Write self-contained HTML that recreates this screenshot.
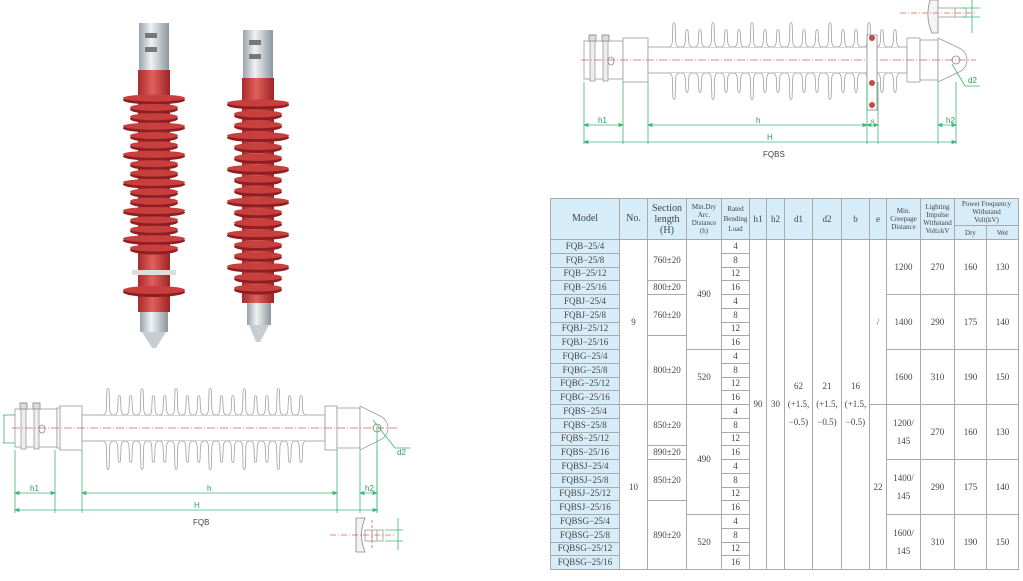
<!DOCTYPE html>
<html><head><meta charset="utf-8">
<style>
body{margin:0;width:1023px;height:581px;background:#fff;position:relative;overflow:hidden;font-family:"Liberation Sans",sans-serif}
svg{position:absolute;left:0;top:0}
table{position:absolute;left:550px;top:198px;width:468px;border-collapse:collapse;table-layout:fixed;font-family:"Liberation Serif",serif;font-size:9px;color:#444}
td{border:1px solid #aaa;text-align:center;padding:0;line-height:9px;overflow:hidden;white-space:nowrap}
tr.d td{height:12.75px}
.hd td{background:#d6ecf9;line-height:8px}
td.m{background:#d6ecf9;font-size:9px}
.s{font-size:7px}
</style></head><body>
<svg id="sv" width="1023" height="581" xmlns="http://www.w3.org/2000/svg">
<g id="g"></g>
<g font-family="Liberation Sans" font-size="8" fill="#2a9d5c">
<text x="30" y="491">h1</text><text x="207" y="491">h</text><text x="365" y="491">h2</text>
<text x="194" y="508">H</text><text x="397" y="455">d2</text>
<text x="598" y="123">h1</text><text x="756" y="123">h</text><text x="871" y="123" font-size="6">e</text><text x="946" y="123">h2</text>
<text x="767" y="140">H</text><text x="968" y="83">d2</text>
</g>
<g font-family="Liberation Sans" font-size="8" fill="#444"><text x="193" y="525">FQB</text><text x="763" y="157">FQBS</text></g>
</svg>
<table>
<colgroup><col style="width:69px"><col style="width:28px"><col style="width:39px"><col style="width:35px"><col style="width:28px"><col style="width:17px"><col style="width:18px"><col style="width:28px"><col style="width:29px"><col style="width:28px"><col style="width:17px"><col style="width:34px"><col style="width:34px"><col style="width:32px"><col style="width:32px"></colgroup>
<tr class="hd" style="height:27px"><td rowspan="2" style="font-size:10px">Model</td><td rowspan="2" style="font-size:10px">No.</td><td rowspan="2" style="font-size:10px;line-height:11px">Section<br>length<br>(H)</td><td rowspan="2" class="s">Min.Dry<br>Arc.<br>Distance<br>(h)</td><td rowspan="2" class="s" style="line-height:10px">Rated<br>Bending<br>Load</td><td rowspan="2">h1</td><td rowspan="2">h2</td><td rowspan="2">d1</td><td rowspan="2">d2</td><td rowspan="2">b</td><td rowspan="2">e</td><td rowspan="2" class="s">Min.<br>Creepage<br>Distance</td><td rowspan="2" class="s">Lighting<br>Impulse<br>Withstand<br>Volt≥kV</td><td colspan="2" class="s">Power Frequency<br>Withstand<br>Volt(kV)</td></tr>
<tr class="hd" style="height:14px"><td class="s">Dry</td><td class="s">Wet</td></tr>
<tr class="d"><td class="m">FQB−25/4</td><td rowspan="12">9</td><td rowspan="3">760±20</td><td rowspan="8">490</td><td>4</td><td rowspan="24">90</td><td rowspan="24">30</td><td rowspan="24">62<br><br>(+1.5,<br><br>−0.5)</td><td rowspan="24">21<br><br>(+1.5,<br><br>−0.5)</td><td rowspan="24">16<br><br>(+1.5,<br><br>−0.5)</td><td rowspan="12">/</td><td rowspan="4">1200</td><td rowspan="4">270</td><td rowspan="4">160</td><td rowspan="4">130</td></tr>
<tr class="d"><td class="m">FQB−25/8</td><td>8</td></tr>
<tr class="d"><td class="m">FQB−25/12</td><td>12</td></tr>
<tr class="d"><td class="m">FQB−25/16</td><td>800±20</td><td>16</td></tr>
<tr class="d"><td class="m">FQBJ−25/4</td><td rowspan="3">760±20</td><td>4</td><td rowspan="4">1400</td><td rowspan="4">290</td><td rowspan="4">175</td><td rowspan="4">140</td></tr>
<tr class="d"><td class="m">FQBJ−25/8</td><td>8</td></tr>
<tr class="d"><td class="m">FQBJ−25/12</td><td>12</td></tr>
<tr class="d"><td class="m">FQBJ−25/16</td><td rowspan="5">800±20</td><td>16</td></tr>
<tr class="d"><td class="m">FQBG−25/4</td><td rowspan="4">520</td><td>4</td><td rowspan="4">1600</td><td rowspan="4">310</td><td rowspan="4">190</td><td rowspan="4">150</td></tr>
<tr class="d"><td class="m">FQBG−25/8</td><td>8</td></tr>
<tr class="d"><td class="m">FQBG−25/12</td><td>12</td></tr>
<tr class="d"><td class="m">FQBG−25/16</td><td>16</td></tr>
<tr class="d"><td class="m">FQBS−25/4</td><td rowspan="12">10</td><td rowspan="3">850±20</td><td rowspan="8">490</td><td>4</td><td rowspan="12">22</td><td rowspan="4">1200/<br><br>145</td><td rowspan="4">270</td><td rowspan="4">160</td><td rowspan="4">130</td></tr>
<tr class="d"><td class="m">FQBS−25/8</td><td>8</td></tr>
<tr class="d"><td class="m">FQBS−25/12</td><td>12</td></tr>
<tr class="d"><td class="m">FQBS−25/16</td><td>890±20</td><td>16</td></tr>
<tr class="d"><td class="m">FQBSJ−25/4</td><td rowspan="3">850±20</td><td>4</td><td rowspan="4">1400/<br><br>145</td><td rowspan="4">290</td><td rowspan="4">175</td><td rowspan="4">140</td></tr>
<tr class="d"><td class="m">FQBSJ−25/8</td><td>8</td></tr>
<tr class="d"><td class="m">FQBSJ−25/12</td><td>12</td></tr>
<tr class="d"><td class="m">FQBSJ−25/16</td><td rowspan="5">890±20</td><td>16</td></tr>
<tr class="d"><td class="m">FQBSG−25/4</td><td rowspan="4">520</td><td>4</td><td rowspan="4">1600/<br><br>145</td><td rowspan="4">310</td><td rowspan="4">190</td><td rowspan="4">150</td></tr>
<tr class="d"><td class="m">FQBSG−25/8</td><td>8</td></tr>
<tr class="d"><td class="m">FQBSG−25/12</td><td>12</td></tr>
<tr class="d"><td class="m">FQBSG−25/16</td><td>16</td></tr>
</table>
<script>
var s='';
function R(x,y,w,h,st,f){s+='<rect x="'+x+'" y="'+y+'" width="'+w+'" height="'+h+'" fill="'+(f||'#fff')+'" stroke="'+(st||'#999')+'" stroke-width="0.8"/>';}
function L(x1,y1,x2,y2,c,d){s+='<line x1="'+x1+'" y1="'+y1+'" x2="'+x2+'" y2="'+y2+'" stroke="'+c+'" stroke-width="0.8"'+(d?' stroke-dasharray="'+d+'"':'')+'/>';}
function P(d,st,f,w){s+='<path d="'+d+'" fill="'+(f||'none')+'" stroke="'+(st||'#999')+'" stroke-width="'+(w||0.8)+'"/>';}
function E(cx,cy,rx,ry,f,st){s+='<ellipse cx="'+cx+'" cy="'+cy+'" rx="'+rx+'" ry="'+ry+'" fill="'+f+'" stroke="'+(st||'none')+'" stroke-width="0.8"/>';}
var G='#3cb878';
function fin(x,b,t,sg){ // sg=-1 up, +1 down
 var y1=b+sg*(-1)*0, k=sg;
 P('M'+(x-5)+','+b+' Q'+(x-1.6)+','+b+' '+(x-1.6)+','+(b-k*8)+' L'+(x-1.1)+','+(t+k*2)+' Q'+x+','+(t-k*1)+' '+(x+1.1)+','+(t+k*2)+' L'+(x+1.6)+','+(b-k*8)+' Q'+(x+1.6)+','+b+' '+(x+5)+','+b,'#a0a0a0','#fff');
}
function ins(o){
 var cy=o.cy;
 R(o.c0,cy-19,o.c1-o.c0,38);
 [o.c0+8,o.c0+21].forEach(function(b){R(b-2,cy-25,5,46,'#999','#eee');R(b-3,cy-25,7,6,'#888','#ddd');});
 E(o.c0+27,cy+1,3,4,'#fff','#888');
 R(o.c1,cy-20,o.r0-o.c1,40);
 R(o.r0,cy-22,o.r1-o.r0,44);
 R(o.r1,cy-13,o.r2-o.r1,26);
 for(var i=0;i<o.n;i++){var x=o.s0+i*(o.s1-o.s0)/(o.n-1),big=i%3==0,t=big?o.tt:o.tt+7,b=big?o.tb:o.tb-7;
  fin(x,cy-13,t,1);fin(x,cy+13,b,-1);}
 R(o.r2,cy-22,o.r3-o.r2,44);
 R(o.r3,cy-20,o.e0-o.r3,40);
 P('M'+o.e0+','+(cy-22)+' L'+o.e0+','+(cy+22)+' L'+(o.ex+3)+','+(cy+12)+' A13,13 0 0 0 '+(o.ex+3)+','+(cy-12)+' Z','#999','#fff');
 E(o.ex,cy,4,4,'#fff','#888');
 L(o.c0-3,cy,o.ex+20,cy,'#e06060','8 2 1 2');
}
function dim(x1,x2,y){L(x1,y,x2,y,G);P('M'+x1+','+y+' l4,-1.5 v3 z',G,G);P('M'+x2+','+y+' l-4,-1.5 v3 z',G,G);}
ins({cy:428,c0:15,c1:57,r0:60,r1:82,r2:325,r3:337,e0:360,ex:377,s0:108,s1:301,n:18,tt:388,tb:470});
[15,55,82,337,360,377].forEach(function(x){L(x,450,x,513,G);});
L(377,428,377,513,G);
dim(15,55,493);dim(82,337,493);dim(360,377,493);dim(15,377,510);
L(3,415,15,415,G);L(3,443,15,443,G);L(4,415,4,443,G);
L(373,420,395,448,G);L(395,448,410,448,G);
P('M356,518 L365,518 Q358,535 365,552 L356,552 Z','#888','#f4f4f4');
R(365,530,18,11);L(372,530,372,541,'#999');L(377,530,377,541,'#999');
L(330,535,395,535,'#e06060','6 2 1 2');L(372,520,372,548,'#e06060','3 2');
L(398,518,398,550,G);L(385,530,403,530,G);L(385,541,403,541,G);
ins({cy:60,c0:584,c1:623,r0:623,r1:648,r2:907,r3:920,e0:938,ex:956,s0:674,s1:895,n:18,tt:22,tb:100});
R(867,35,10,75,'#888','#fff');[38,83,105].forEach(function(y){E(872,y,3,3,'#c84848');});
[584,623,648,867,878,938,956].forEach(function(x){L(x,82,x,144,G);});
dim(584,623,125);dim(648,867,125);dim(867,878,125);dim(938,956,125);dim(584,956,142);
L(952,64,965,86,G);L(965,86,980,86,G);
P('M930,0 L938,0 L938,33 L932,33 Q925,18 930,0 Z','#888','#f4f4f4');
R(938,8,28,9);L(955,8,955,17,'#999');
L(900,13,975,13,'#e06060','6 2 1 2');
L(972,0,972,33,G);L(962,8,980,8,G);L(962,17,980,17,G);
function photo(cx,mt,mb,st,sb,n,bw,sw,bot){
 var w=15;
 s+='<defs><linearGradient id="m'+cx+'" x1="0" x2="1"><stop offset="0" stop-color="#9aa3aa"/><stop offset=".4" stop-color="#eef2f4"/><stop offset="1" stop-color="#8d969c"/></linearGradient><linearGradient id="r'+cx+'" x1="0" x2="1"><stop offset="0" stop-color="#a82a2c"/><stop offset=".45" stop-color="#e0605c"/><stop offset="1" stop-color="#9c2426"/></linearGradient></defs>';
 R(cx-w,mt,2*w,mb-mt,'none','url(#m'+cx+')');
 R(cx-9,mt+10,12,5,'none','#777');R(cx-9,mt+24,12,5,'none','#777');
 R(cx-w-1,mb,2*w+2,bot-mb,'none','url(#r'+cx+')');
 for(var i=0;i<n;i++){var y=st+i*(sb-st)/(n-1),big=(i%3==0),rx=big?bw:sw;
  E(cx,y+2,rx,4.5,'#8e1e22');E(cx,y,rx,3.5,'#c8403e');}
}
photo(154,23,70,98,248,17,31,24,312);
E(154,292,31,5,'#8e1e22');E(154,290,31,4,'#c8403e');
R(132,270,44,5,'none','#ddd');
R(140,312,28,20,'none','url(#m154)');P('M142,332 L166,332 L156,348 L152,348 Z','none','#c8cdd2');
photo(258,30,78,103,288,18,31,24,303);
R(247,303,24,22,'none','url(#m258)');P('M249,325 L269,325 L260,342 L256,342 Z','none','#c8cdd2');
document.getElementById('g').innerHTML=s;
</script>
</body></html>
